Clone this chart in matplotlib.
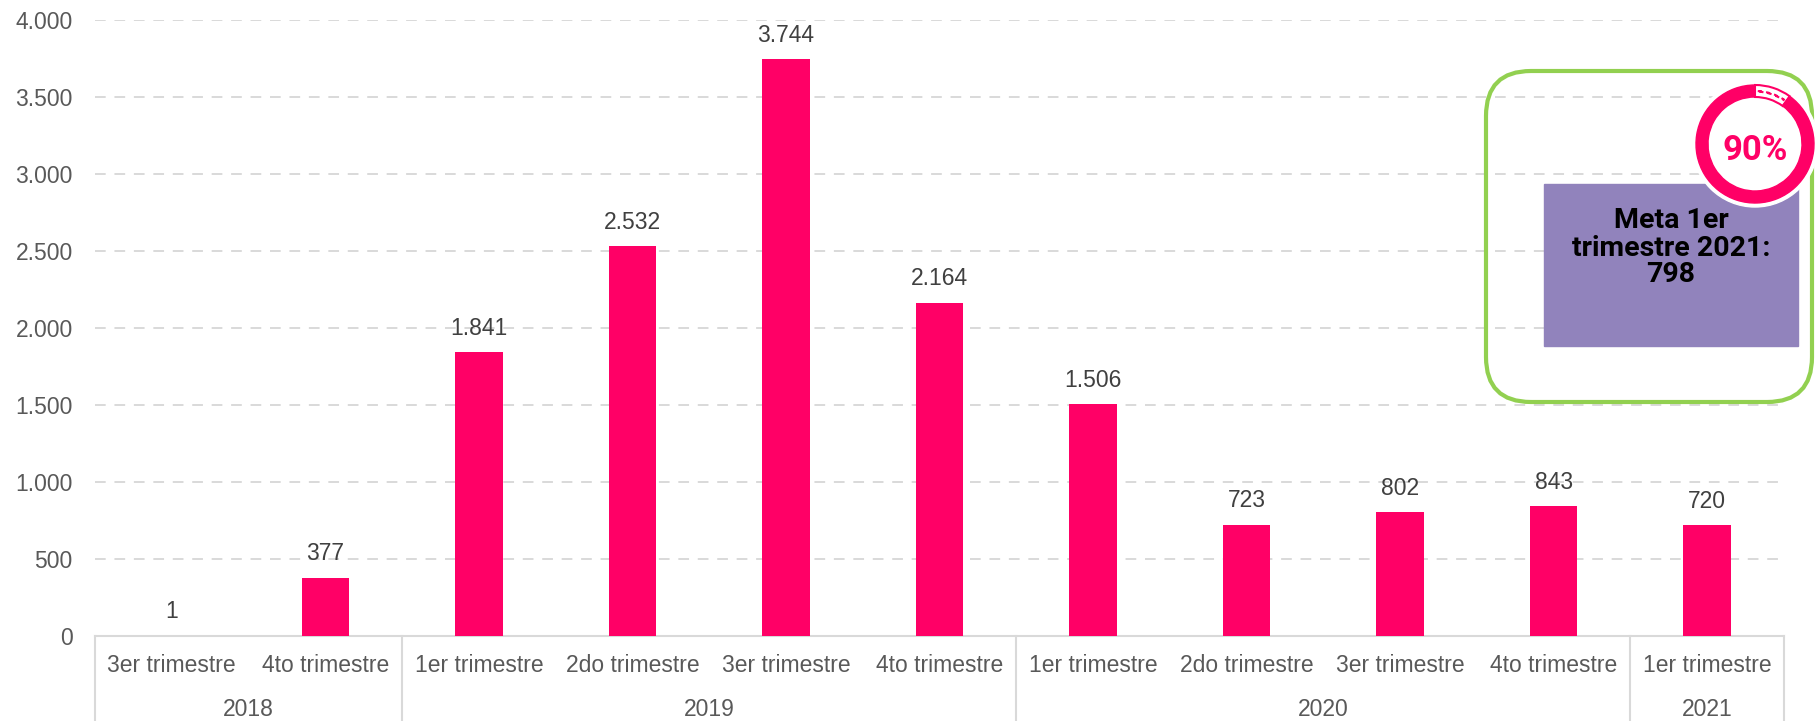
import matplotlib
matplotlib.use("Agg")
import matplotlib.pyplot as plt
from matplotlib.patches import FancyBboxPatch, Rectangle, Wedge, Circle
from matplotlib.transforms import blended_transform_factory

quarters = ["3er trimestre", "4to trimestre",
            "1er trimestre", "2do trimestre", "3er trimestre", "4to trimestre",
            "1er trimestre", "2do trimestre", "3er trimestre", "4to trimestre",
            "1er trimestre"]
years = ["2018", "2019", "2020", "2021"]
year_counts = [2, 4, 4, 1]
values = [1, 377, 1841, 2532, 3744, 2164, 1506, 723, 802, 843, 720]
yticks = [0, 500, 1000, 1500, 2000, 2500, 3000, 3500, 4000]
meta_text = "Meta 1er\ntrimestre 2021:\n798"
pct_text = "90%"
pct_value = 0.90

BAR = "#FF0066"
GRID = "#D9D9D9"
TICK = "#595959"
LABEL = "#404040"

plt.rcParams['font.family'] = ['Liberation Sans', 'DejaVu Sans']

W, H = 1816, 721
fig = plt.figure(figsize=(W / 100, H / 100), dpi=100)
ax = fig.add_axes([95 / W, 1 - 636 / H, (1784 - 95) / W, (636 - 20) / H])

x = list(range(len(values)))
bars = ax.bar(x, values, width=0.31, color=BAR, zorder=3)
for xi, v in zip(x, values):
    ax.annotate(f"{v:,}".replace(",", "."), (xi, v), xytext=(0, 9),
                textcoords="offset points", ha="center", va="bottom",
                fontsize=16.5, color=LABEL)

ax.set_xlim(-0.5, len(values) - 0.5)
ax.set_ylim(0, 4000)
ax.set_yticks(yticks)
ax.set_yticklabels([f"{t:,}".replace(",", ".") for t in yticks],
                   fontsize=16.5, color=TICK)
ax.tick_params(axis="y", length=0, pad=16)
ax.set_xticks([])
for s in ax.spines.values():
    s.set_visible(False)
ax.yaxis.grid(True, color=GRID, linestyle=(0, (5.5, 4.5)), linewidth=1.4, zorder=0)
ax.set_axisbelow(True)

tr = blended_transform_factory(ax.transData, ax.transAxes)
ax.plot([-0.5, len(values) - 0.5], [0, 0], color=GRID, lw=1.5, transform=tr,
        clip_on=False, zorder=2)
for xi, q in zip(x, quarters):
    ax.text(xi, -0.048, q, transform=tr, ha="center", va="center",
            fontsize=16.5, color=TICK)
start = 0
bounds = [-0.5]
for yname, c in zip(years, year_counts):
    mid = start + (c - 1) / 2
    ax.text(mid, -0.119, yname, transform=tr, ha="center", va="center",
            fontsize=16.5, color=TICK)
    start += c
    bounds.append(start - 0.5)
for b in bounds:
    ax.plot([b, b], [0, -0.2], color=GRID, lw=1.5, transform=tr, clip_on=False)

# Annotation overlay in figure pixel coordinates (y grows downward)
ov = fig.add_axes([0, 0, 1, 1], zorder=5)
ov.set_xlim(0, W)
ov.set_ylim(H, 0)
ov.axis("off")
ov.patch.set_alpha(0)

ov.add_patch(FancyBboxPatch((1486 + 45, 71 + 45), 1812 - 1486 - 90, 402 - 71 - 90,
                            boxstyle="round,pad=45", fill=False,
                            edgecolor="#92D050", linewidth=3))
ov.add_patch(Rectangle((1544, 184), 1798 - 1544, 346 - 184, color="#9183BC"))
ov.text(1671, 248, meta_text, ha="center", va="center", fontsize=20.5,
        fontweight="bold", family="Roboto", color="black", linespacing=1.0)

cx, cy, r = 1755, 144, 59
ov.add_patch(Circle((cx, cy), r + 4, color="white"))
# inverted y: visual angle phi corresponds to data angle -phi
rem = 360 * (1 - pct_value)
ov.add_patch(Wedge((cx, cy), r, -90, -90 + rem, width=12, facecolor="white",
                   edgecolor=BAR, lw=1.5))
ov.add_patch(Wedge((cx, cy), r - 6, -90 + 3, -90 + rem - 3, width=0.5,
                   facecolor="none", edgecolor=BAR, lw=1.5,
                   linestyle=(0, (2, 2))))
ov.add_patch(Wedge((cx, cy), r, -90 + rem, 270, width=12, color=BAR))
ov.text(cx, cy + 7, pct_text, ha="center", va="center", fontsize=25,
        fontweight="bold", family="Roboto", color=BAR)

fig.savefig("out.png", dpi=100)
